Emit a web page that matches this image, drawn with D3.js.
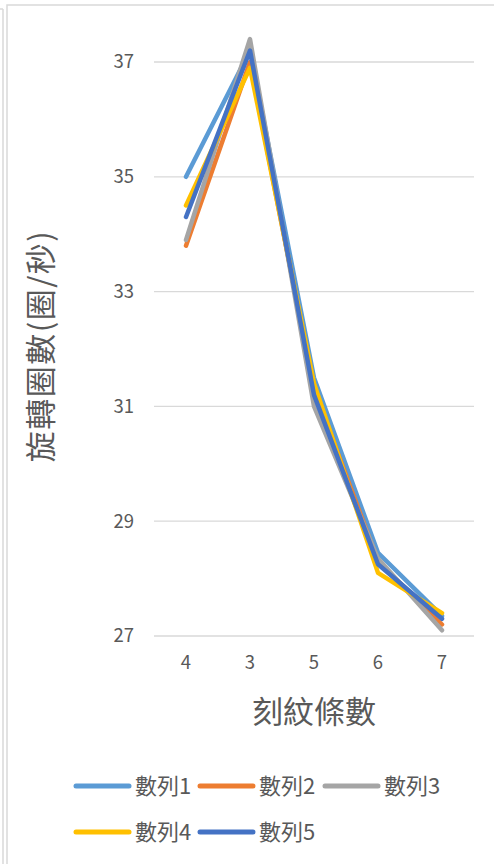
<!DOCTYPE html>
<html>
<head>
<meta charset="utf-8">
<script src="https://cdn.jsdelivr.net/npm/d3@7/dist/d3.min.js"></script>
<style>
  html, body { margin: 0; padding: 0; background: #fff; }
  svg { display: block; }
</style>
</head>
<body>
<svg id="chart" width="494" height="864"></svg>
<script>
// Number of engraved lines (category order as plotted)
const categories = ["4", "3", "5", "6", "7"];
// Rotation rate (revolutions per second) for each trial series
const seriesNames = ["數列1", "數列2", "數列3", "數列4", "數列5"];
const series1 = [35.0, 37.2, 31.5, 28.45, 27.35];
const series2 = [33.8, 37.0, 31.3, 28.3, 27.2];
const series3 = [33.9, 37.4, 31.0, 28.35, 27.1];
const series4 = [34.5, 36.9, 31.4, 28.1, 27.4];
const series5 = [34.3, 37.2, 31.2, 28.25, 27.3];
const seriesColors = ["#5B9BD5", "#ED7D31", "#A5A5A5", "#FFC000", "#4472C4"];
const yTicks = [27, 29, 31, 33, 35, 37];
const xTitle = "刻紋條數";
const yTitle = "旋轉圈數(圈/秒)";

const allSeries = [series1, series2, series3, series4, series5];

const svg = d3.select("#chart");
const textColor = "#595959";
const fontCJK = "'Noto Sans CJK TC', 'Noto Sans', sans-serif";

// Outer frame lines
const frame = svg.append("g").attr("stroke", "#d9d9d9").attr("fill", "none").attr("stroke-width", 1.5);
frame.append("path").attr("d", "M3,9V864");
frame.append("path").attr("d", "M0,9H3");
frame.append("path").attr("d", "M7,864V5H494");

const plot = { left: 154, right: 474, top: 62, bottom: 636 };

const x = d3.scaleBand().domain(categories).range([plot.left, plot.right]);
const y = d3.scaleLinear().domain([27, 37]).range([plot.bottom, plot.top]);

// Horizontal gridlines
svg.append("g")
  .selectAll("line")
  .data(yTicks)
  .join("line")
  .attr("x1", plot.left).attr("x2", plot.right)
  .attr("y1", d => y(d)).attr("y2", d => y(d))
  .attr("stroke", "#d9d9d9").attr("stroke-width", 1.3);

// Y axis labels
const yAxis = svg.append("g")
  .attr("transform", `translate(${plot.left},0)`)
  .call(d3.axisLeft(y).tickValues(yTicks).tickSize(0).tickPadding(20));
yAxis.select(".domain").remove();
yAxis.selectAll("text")
  .attr("fill", textColor)
  .style("font-family", fontCJK)
  .style("font-size", "18.5px");

// X axis labels
const xAxis = svg.append("g")
  .attr("transform", `translate(0,${plot.bottom})`)
  .call(d3.axisBottom(x).tickSize(0).tickPadding(20));
xAxis.select(".domain").remove();
xAxis.selectAll("text")
  .attr("fill", textColor)
  .style("font-family", fontCJK)
  .style("font-size", "18.5px");

// Axis titles
svg.append("text")
  .attr("x", (plot.left + plot.right) / 2)
  .attr("y", 723)
  .attr("text-anchor", "middle")
  .attr("fill", textColor)
  .style("font-family", fontCJK)
  .style("font-size", "31px")
  .text(xTitle);

svg.append("text")
  .attr("transform", "translate(52,346) rotate(-90)")
  .attr("text-anchor", "middle")
  .attr("fill", textColor)
  .style("font-family", fontCJK)
  .style("font-size", "31px")
  .style("letter-spacing", "1.5px")
  .text(yTitle);

// Series lines
const line = d3.line()
  .x((d, i) => x(categories[i]) + x.bandwidth() / 2)
  .y(d => y(d));

svg.append("g")
  .selectAll("path")
  .data(allSeries)
  .join("path")
  .attr("d", d => line(d))
  .attr("fill", "none")
  .attr("stroke", (d, i) => seriesColors[i])
  .attr("stroke-width", 4.5)
  .attr("stroke-linecap", "round")
  .attr("stroke-linejoin", "round");

// Legend
const legendPos = [
  { lx: 76, ty: 786 }, { lx: 200, ty: 786 }, { lx: 325, ty: 786 },
  { lx: 76, ty: 832 }, { lx: 200, ty: 832 }
];
const legend = svg.append("g")
  .selectAll("g")
  .data(seriesNames)
  .join("g")
  .attr("transform", (d, i) => `translate(${legendPos[i].lx},${legendPos[i].ty})`);
legend.append("line")
  .attr("x1", 0).attr("x2", 53)
  .attr("y1", 0).attr("y2", 0)
  .attr("stroke", (d, i) => seriesColors[i])
  .attr("stroke-width", 5)
  .attr("stroke-linecap", "round");
legend.append("text")
  .attr("x", 59)
  .attr("dy", "0.35em")
  .attr("fill", textColor)
  .style("font-family", fontCJK)
  .style("font-size", "22px")
  .text(d => d);
</script>
</body>
</html>
